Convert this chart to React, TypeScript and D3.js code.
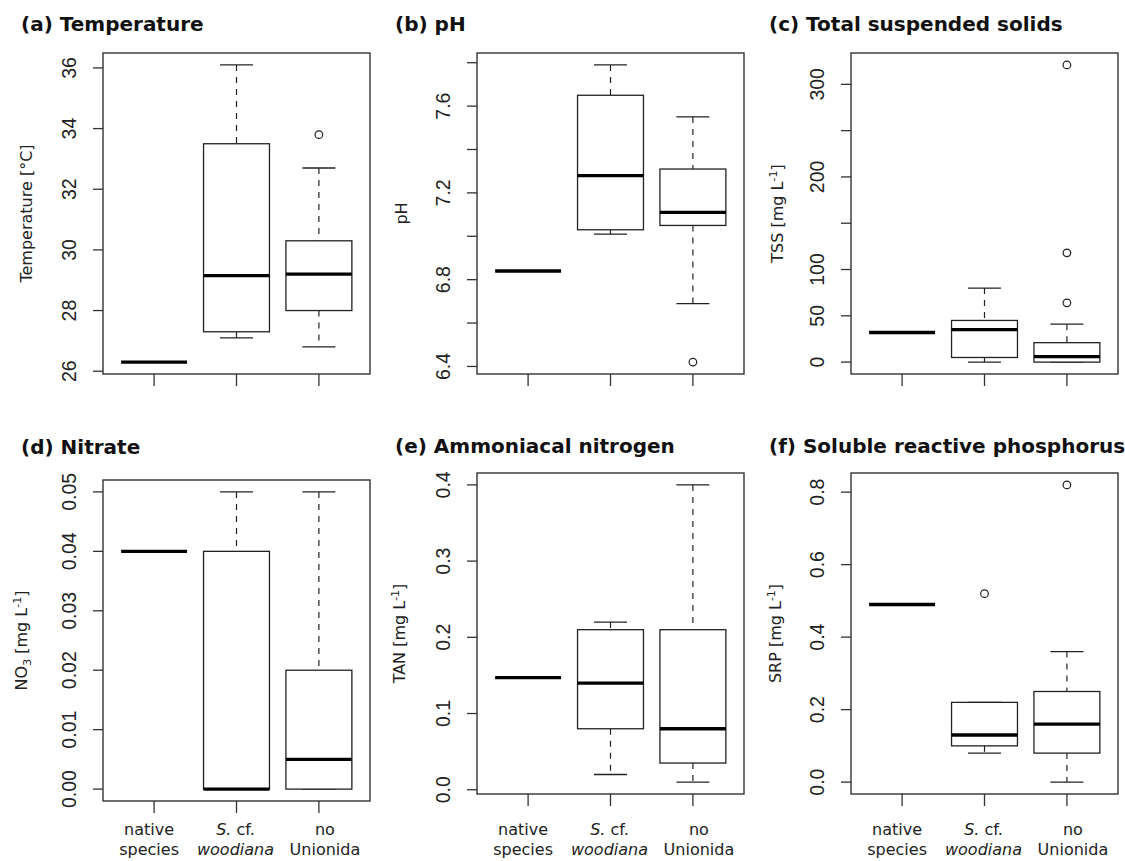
import React from 'react'
import * as d3 from 'd3'

// group order on the x axis
const groups = ['native species', 'S. cf. woodiana', 'no Unionida']

// per group: [lower whisker, q1, median, q3, upper whisker]
const tempStats = [
  [26.3, 26.3, 26.3, 26.3, 26.3],
  [27.1, 27.3, 29.15, 33.5, 36.1],
  [26.8, 28.0, 29.2, 30.3, 32.7]
]
const tempOutliers = [[], [], [33.8]]
const tempTicks = [26, 28, 30, 32, 34, 36]
const tempLabels = [26, 28, 30, 32, 34, 36]

const phStats = [
  [6.84, 6.84, 6.84, 6.84, 6.84],
  [7.01, 7.03, 7.28, 7.65, 7.79],
  [6.69, 7.05, 7.11, 7.31, 7.55]
]
const phOutliers = [[], [], [6.42]]
const phTicks = [6.4, 6.6, 6.8, 7.0, 7.2, 7.4, 7.6, 7.8]
const phLabels = [6.4, 6.8, 7.2, 7.6]

const tssStats = [
  [32, 32, 32, 32, 32],
  [0, 5, 35, 45, 80],
  [0, 0, 6, 21, 41]
]
const tssOutliers = [[], [], [321, 118, 64]]
const tssTicks = [0, 50, 100, 150, 200, 250, 300]
const tssLabels = [0, 50, 100, 200, 300]

const no3Stats = [
  [0.04, 0.04, 0.04, 0.04, 0.04],
  [0, 0, 0, 0.04, 0.05],
  [0, 0, 0.005, 0.02, 0.05]
]
const no3Outliers = [[], [], []]
const no3Ticks = [0, 0.01, 0.02, 0.03, 0.04, 0.05]

const tanStats = [
  [0.147, 0.147, 0.147, 0.147, 0.147],
  [0.02, 0.08, 0.14, 0.21, 0.22],
  [0.01, 0.035, 0.08, 0.21, 0.4]
]
const tanOutliers = [[], [], []]
const tanTicks = [0, 0.1, 0.2, 0.3, 0.4]

const srpStats = [
  [0.49, 0.49, 0.49, 0.49, 0.49],
  [0.08, 0.1, 0.13, 0.22, 0.22],
  [0, 0.08, 0.16, 0.25, 0.36]
]
const srpOutliers = [[], [0.52], [0.82]]
const srpTicks = [0, 0.2, 0.4, 0.6, 0.8]

const INK = '#222'
const PW = 267
const PH = 321

const panels = [
  { title: '(a) Temperature', stats: tempStats, out: tempOutliers, ticks: tempTicks, labels: tempLabels, fmt: 'd',
    ylab: [{ t: 'Temperature [°C]' }], left: 103, top: 53, h: PH, titleY: 31, ylabOff: 71 },
  { title: '(b) pH', stats: phStats, out: phOutliers, ticks: phTicks, labels: phLabels, fmt: '.1f',
    ylab: [{ t: 'pH' }], left: 477, top: 53, h: PH, titleY: 31, ylabOff: 70 },
  { title: '(c) Total suspended solids', stats: tssStats, out: tssOutliers, ticks: tssTicks, labels: tssLabels, fmt: 'd',
    ylab: [{ t: 'TSS [mg L' }, { t: '-1', sup: true }, { t: ']' }], left: 851, top: 53, h: PH, titleY: 31, ylabOff: 68 },
  { title: '(d) Nitrate', stats: no3Stats, out: no3Outliers, ticks: no3Ticks, labels: no3Ticks, fmt: '.2f',
    ylab: [{ t: 'NO' }, { t: '3', sub: true }, { t: ' [mg L' }, { t: '-1', sup: true }, { t: ']' }],
    left: 103, top: 480, h: PH, titleY: 454, ylabOff: 76, xlab: true },
  { title: '(e) Ammoniacal nitrogen', stats: tanStats, out: tanOutliers, ticks: tanTicks, labels: tanTicks, fmt: '.1f',
    ylab: [{ t: 'TAN [mg L' }, { t: '-1', sup: true }, { t: ']' }], left: 477, top: 473, h: PH, titleY: 453, ylabOff: 72, xlab: true },
  { title: '(f) Soluble reactive phosphorus', stats: srpStats, out: srpOutliers, ticks: srpTicks, labels: srpTicks, fmt: '.1f',
    ylab: [{ t: 'SRP [mg L' }, { t: '-1', sup: true }, { t: ']' }], left: 851, top: 473, h: PH, titleY: 453, ylabOff: 70, xlab: true }
]

// x label lines, S. and woodiana set in italics
const xLabelLines = [
  [[{ t: 'native' }], [{ t: 'species' }]],
  [[{ t: 'S.', i: true }, { t: ' cf.' }], [{ t: 'woodiana', i: true }]],
  [[{ t: 'no' }], [{ t: 'Unionida' }]]
]
const xLabelShift = [-5, -1, 6]

function BoxPanel ({ p }: { p: any }) {
  const all = p.stats.flat().concat(p.out.flat())
  const [lo, hi] = d3.extent(all) as [number, number]
  const pad = (hi - lo) * 0.04
  const y = d3.scaleLinear().domain([lo - pad, hi + pad]).range([p.top + p.h, p.top])
  const x = d3.scaleLinear().domain([0.38, 3.62]).range([p.left, p.left + PW])
  const f = d3.format(p.fmt)
  const bottom = p.top + p.h
  const hw = x(0.4) - x(0)
  const cw = x(0.2) - x(0)

  return (
    <g>
      <text x={p.left - 82} y={p.titleY} fontFamily='DejaVu Sans' fontWeight='bold' fontSize={20} fill='#111'>{p.title}</text>
      <rect x={p.left} y={p.top} width={PW} height={p.h} fill='none' stroke='#333' strokeWidth={1.4} />

      {p.ticks.map((v: number) => (
        <line key={'t' + v} x1={p.left - 10} x2={p.left} y1={y(v)} y2={y(v)} stroke='#333' strokeWidth={1.3} />
      ))}
      {p.labels.map((v: number) => (
        <text key={'l' + v} transform={`translate(${p.left - 27},${y(v)}) rotate(-90)`} textAnchor='middle'
          fontFamily='Liberation Sans' fontSize={19.5} fill={INK}>{f(v)}</text>
      ))}
      <text transform={`translate(${p.left - p.ylabOff},${p.top + p.h / 2}) rotate(-90)`} textAnchor='middle'
        fontFamily='DejaVu Sans' fontSize={16} fill={INK}>
        {p.ylab.map((s: any, i: number) => (
          <tspan key={i} fontSize={s.sub || s.sup ? 11 : 16}
            dy={s.sub ? 4 : s.sup ? -6 : (i > 0 && (p.ylab[i - 1].sub ? -4 : p.ylab[i - 1].sup ? 6 : 0))}>{s.t}</tspan>
        ))}
      </text>

      {groups.map((g, i) => {
        const cx = x(i + 1)
        const [wl, q1, md, q3, wh] = p.stats[i]
        return (
          <g key={g}>
            <line x1={cx} x2={cx} y1={bottom} y2={bottom + 12} stroke='#333' strokeWidth={1.3} />
            <line x1={cx} x2={cx} y1={y(wh)} y2={y(q3)} stroke={INK} strokeWidth={1.2} strokeDasharray='6,6' />
            <line x1={cx} x2={cx} y1={y(q1)} y2={y(wl)} stroke={INK} strokeWidth={1.2} strokeDasharray='6,6' />
            <line x1={cx - cw} x2={cx + cw} y1={y(wh)} y2={y(wh)} stroke={INK} strokeWidth={1.3} />
            <line x1={cx - cw} x2={cx + cw} y1={y(wl)} y2={y(wl)} stroke={INK} strokeWidth={1.3} />
            <rect x={cx - hw} y={y(q3)} width={2 * hw} height={y(q1) - y(q3)} fill='white' stroke={INK} strokeWidth={1.3} />
            <line x1={cx - hw} x2={cx + hw} y1={y(md)} y2={y(md)} stroke='#000' strokeWidth={3.3} />
            {p.out[i].map((v: number) => (
              <circle key={v} cx={cx} cy={y(v)} r={3.8} fill='none' stroke={INK} strokeWidth={1.2} />
            ))}
            {p.xlab && xLabelLines[i].map((line, li) => (
              <text key={li} x={cx + xLabelShift[i]} y={835 + li * 20} textAnchor='middle'
                fontFamily='DejaVu Sans' fontSize={16} fill={INK}>
                {line.map((s: any, k: number) => (
                  <tspan key={k} fontStyle={s.i ? 'italic' : 'normal'}>{s.t}</tspan>
                ))}
              </text>
            ))}
          </g>
        )
      })}
    </g>
  )
}

export default function App () {
  return (
    <svg width={1125} height={861} viewBox='0 0 1125 861'
      style={{ position: 'absolute', left: 0, top: 0, background: 'white' }}>
      <rect width={1125} height={861} fill='white' />
      {panels.map(p => <BoxPanel key={p.title} p={p} />)}
    </svg>
  )
}
